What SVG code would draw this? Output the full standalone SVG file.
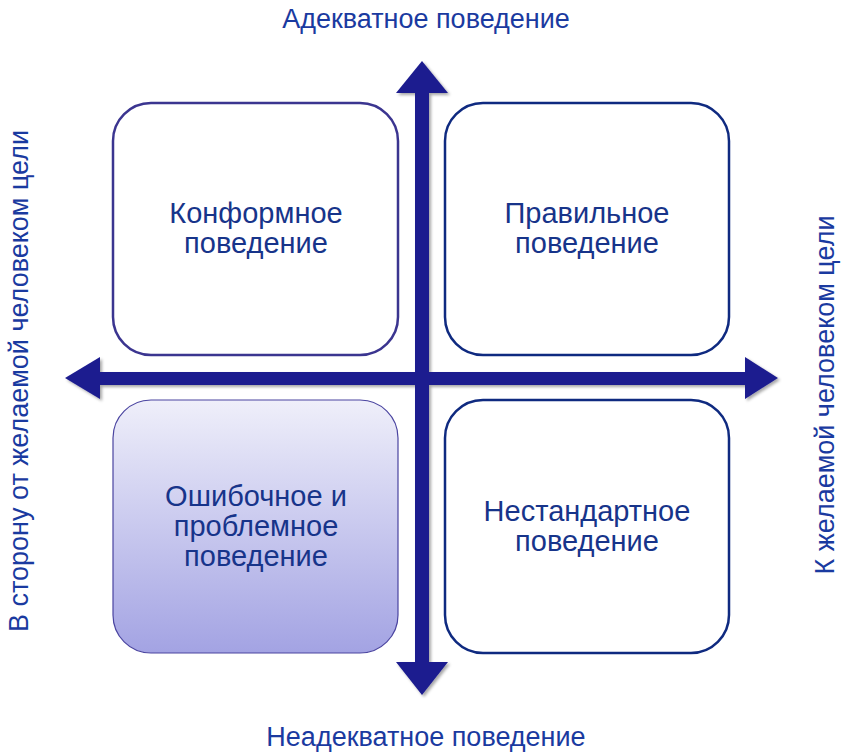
<svg xmlns="http://www.w3.org/2000/svg" width="846" height="755" viewBox="0 0 846 755">
<style>
.box{fill:#fff;stroke-width:2.5}
.t{font-family:"Liberation Sans",Arial,sans-serif;font-size:29px;fill:#17348a;text-anchor:middle}
.ax{font-family:"Liberation Sans",Arial,sans-serif;font-size:27px;fill:#1a3aa0;text-anchor:middle}
.ar{fill:#1c1c8f}
</style>
<defs>
<linearGradient id="g" x1="0" y1="0" x2="0" y2="1">
<stop offset="0" stop-color="#efeffa"/><stop offset="1" stop-color="#a3a3e3"/>
</linearGradient>
<filter id="sh"><feDropShadow dx="2" dy="2" stdDeviation="1.5" flood-opacity="0.35"/></filter>
</defs>
<g id="n1"><rect class="box" x="113" y="103" width="285" height="252" rx="38" stroke="#3b3590"/>
<text class="t" x="256" y="223">Конформное</text><text class="t" x="256" y="253">поведение</text></g>
<g id="n2"><rect class="box" x="445" y="103" width="284" height="252" rx="38" stroke="#0f2a80"/>
<text class="t" x="587" y="223">Правильное</text><text class="t" x="587" y="253">поведение</text></g>
<g id="n3"><rect x="113" y="400" width="285" height="253" rx="38" fill="url(#g)" stroke="#4a44a0" stroke-width="1.2"/>
<text class="t" x="256" y="506">Ошибочное и</text><text class="t" x="256" y="536">проблемное</text><text class="t" x="256" y="566">поведение</text></g>
<g id="n4"><rect class="box" x="445" y="400" width="284" height="253" rx="38" stroke="#0f2a80"/>
<text class="t" x="587" y="521">Нестандартное</text><text class="t" x="587" y="551">поведение</text></g>
<g id="connectors" filter="url(#sh)">
<path class="ar" d="M100,372 H745 V357 L778,378 L745,399 V385 H100 V399 L65,378 L100,357 Z"/>
<path class="ar" d="M415,93 V662 H396 L422,695 L448,662 H429 V93 H448 L422,61 L396,93 Z"/>
</g>
<g id="labels">
<text class="ax" x="426" y="28">Адекватное поведение</text>
<text class="ax" x="426" y="746">Неадекватное поведение</text>
<text class="ax" transform="translate(28,381) rotate(-90)">В сторону от желаемой человеком цели</text>
<text class="ax" transform="translate(834,395) rotate(-90)">К желаемой человеком цели</text>
</g>
</svg>
